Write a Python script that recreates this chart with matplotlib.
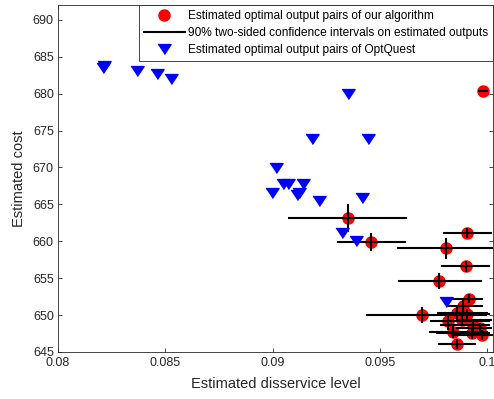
import numpy as np
import matplotlib
matplotlib.use('Agg')
import matplotlib.pyplot as plt
from matplotlib.ticker import FixedLocator, FuncFormatter

plt.rcParams['font.family'] = ['Liberation Sans', 'DejaVu Sans']

# pontos do nosso algoritmo (nivel de desservico, custo)
red_x = [0.09352, 0.09459, 0.09907, 0.09809, 0.09902, 0.09776, 0.09916, 0.09697, 0.09860, 0.09981,
         0.09888, 0.09860, 0.09907, 0.09818, 0.09883, 0.09935, 0.09967, 0.09930, 0.09977, 0.09841]
red_y = [663.1, 659.9, 661.1, 659.05, 656.6, 654.6, 652.2, 650.0, 646.1, 680.4,
         651.2, 650.3, 650.1, 649.2, 649.3, 648.6, 648.2, 647.6, 647.3, 647.7]
# intervalos de confianca 90% (limites)
x_lo = [0.09072, 0.09300, 0.09795, 0.09580, 0.09785, 0.09585, 0.09837, 0.09436, 0.09771, 0.09958,
        0.09818, 0.09767, 0.09780, 0.09734, 0.09855, 0.09780, 0.09855, 0.09762, 0.09832, 0.09729]
x_hi = [0.09627, 0.09622, 0.10023, 0.10050, 0.10014, 0.09977, 0.09981, 0.10000, 0.09949, 0.10004,
        0.09981, 0.10005, 0.10014, 0.10014, 0.10023, 0.10014, 0.10023, 0.10014, 0.10050, 0.10005]
y_lo = [661.2, 658.7, 660.4, 657.6, 655.9, 653.5, 651.6, 648.9, 645.4, 680.3,
        650.4, 649.2, 649.4, 648.0, 648.5, 647.9, 647.5, 646.8, 646.6, 646.9]
y_hi = [665.0, 661.1, 661.8, 660.5, 657.3, 655.7, 652.8, 651.1, 646.8, 680.5,
        652.0, 651.4, 650.8, 650.4, 650.1, 649.3, 648.9, 648.4, 648.0, 648.5]

# pontos do OptQuest
blue_x = [0.08210, 0.08214, 0.08368, 0.08462, 0.08527, 0.09352, 0.09184, 0.09445, 0.09016, 0.09049,
          0.09072, 0.09142, 0.08998, 0.09114, 0.09124, 0.09217, 0.09417, 0.09324, 0.09389, 0.09809]
blue_y = [683.5, 683.7, 683.1, 682.6, 682.0, 680.0, 673.8, 673.9, 669.9, 667.8,
          667.7, 667.8, 666.6, 666.2, 666.5, 665.4, 665.8, 661.1, 660.1, 651.8]

xticks = [0.08, 0.085, 0.09, 0.095, 0.1]
yticks = [645, 650, 655, 660, 665, 670, 675, 680, 685, 690]

fig = plt.figure(figsize=(4.94, 3.99), dpi=100)
ax = fig.add_axes([58/494, 47/399, 435/494, 347/399])

rx = np.array(red_x)
ry = np.array(red_y)
xerr = [rx - np.array(x_lo), np.array(x_hi) - rx]
yerr = [ry - np.array(y_lo), np.array(y_hi) - ry]

h1, = ax.plot(red_x, red_y, 'o', color='red', markersize=8, linestyle='none',
              label='Estimated optimal output pairs of our algorithm')
eb = ax.errorbar(red_x, red_y, xerr=xerr, yerr=yerr, fmt='none', ecolor='black',
                 elinewidth=1.5, capsize=0)
h2, = ax.plot([], [], color='black', linewidth=1.5,
              label='90% two-sided confidence intervals on estimated outputs')
tri = [(-1, 0.75), (1, 0.75), (0, -0.75)]
h3, = ax.plot(blue_x, blue_y, marker=tri, color='blue', markersize=9.5, linestyle='none',
              label='Estimated optimal output pairs of OptQuest')

ax.set_xlim(0.08, 0.08 + 435/429*0.02)
ax.set_ylim(645, 692)
ax.xaxis.set_major_locator(FixedLocator(xticks))
ax.yaxis.set_major_locator(FixedLocator(yticks))
ax.xaxis.set_major_formatter(FuncFormatter(lambda v, p: '%g' % v))
ax.yaxis.set_major_formatter(FuncFormatter(lambda v, p: '%g' % v))
ax.tick_params(direction='in', top=True, right=True, length=3, width=0.6,
               colors='#262626', labelsize=9)
ax.tick_params(axis='x', pad=3.5)
ax.tick_params(axis='y', pad=3)
for s in ax.spines.values():
    s.set_color('#262626')
    s.set_linewidth(0.6)

ax.set_xlabel('Estimated disservice level', fontsize=10.5, color='#262626', labelpad=6)
ax.set_ylabel('Estimated cost', fontsize=10.5, color='#262626', labelpad=5)

leg = ax.legend(handles=[h1, h2, h3], loc='upper right', bbox_to_anchor=(1.0, 1.0),
                borderaxespad=0, fontsize=8.6, frameon=True, fancybox=False,
                handlelength=3.4, handletextpad=0.25, labelspacing=0.4,
                borderpad=0.45, framealpha=1)
leg.get_frame().set_edgecolor('#262626')
leg.get_frame().set_linewidth(0.6)

fig.savefig('out.png', dpi=100)
